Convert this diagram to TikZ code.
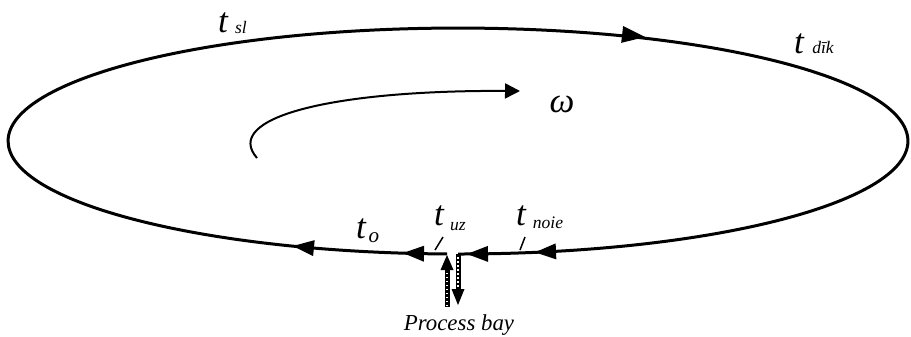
\documentclass[tikz,border=0pt]{standalone}
\usepackage{fontspec}
\setmainfont{Liberation Serif}
\usetikzlibrary{arrows.meta}
\newcommand\ahd[5]{\fill[shift={(#1,#2)},rotate=#3] (0,0) -- (-#4,#5) -- (-#4,-#5) -- cycle;}
\begin{document}
\begin{tikzpicture}[x=0.02cm,y=-0.02cm,
  tbig/.style={inner sep=0pt, anchor=base, font=\fontsize{20}{22}\selectfont\itshape},
  tsub/.style={inner sep=0pt, anchor=base, font=\fontsize{10}{12}\selectfont\itshape},
  orbit/.style={line width=0.06cm},
  pshaft/.style={line width=0.1cm},
  pdots/.style={white, line width=0.025cm, dash pattern=on 0.03cm off 0.05cm},
  leader/.style={line width=0.03cm}]
\useasboundingbox (0,0) rectangle (911,336);
% main orbit (gap at the process bay)
\draw[orbit] (458,254) arc[start angle=270, end angle=628.6, x radius=9cm, y radius=2.26cm];
% arrowheads on the orbit
\ahd{645}{37}{-6.5}{23}{8.5}
\ahd{293}{246}{174.3}{21}{8}
\ahd{403}{253}{178.2}{21}{8}
\ahd{467}{254}{180.3}{21}{8}
\ahd{535}{252.3}{182.5}{21}{8}
% rotation arrow
\draw[line width=0.04cm, -{Triangle[length=0.3cm,width=0.3cm]}] (257,158) .. controls (222,118) and (330,90) .. (520,91);
% process bay arrows
\coordinate (upfoot) at (447,307);
\coordinate (uptip) at (447,255);
\coordinate (dntop) at (458,254);
\coordinate (dntip) at (458,305);
\draw[pshaft] (upfoot) -- (447,268);
\ahd{447}{255}{90}{15}{6.5}
\draw[pdots] (447,306) -- (447,272);
\draw[pshaft] (dntop) -- (458,292);
\ahd{458}{305}{-90}{16}{6.5}
\draw[pdots] (458,257) -- (458,288);
% labels
\node[tbig] (tsl) at (223,32) {t};
\node[tsub] (tslsub) at (241,33) {sl};
\node[tbig] (tdik) at (799,53) {t};
\node[tsub] (tdiksub) at (823,53) {dīk};
\node[tbig] (to) at (361,238) {t};
\node[tsub, font=\fontsize{12}{14}\selectfont\itshape] (tosub) at (374,242) {o};
\node[tbig] (tuz) at (439,225) {t};
\node[tsub] (tuzsub) at (458,230) {uz};
\node[tbig] (tnoie) at (521,225) {t};
\node[tsub] (tnoiesub) at (548,228) {noie};
\node[inner sep=0pt, anchor=base, font=\fontsize{20}{22}\selectfont\itshape] (omega) at (562,112) {ω};
\node[inner sep=0pt, anchor=base, font=\fontsize{13}{15}\selectfont\itshape] (bay) at (459,330) {Process bay};
% leader lines
\coordinate (uzA) at (435,250); \coordinate (uzB) at (443,237);
\coordinate (noA) at (520,250); \coordinate (noB) at (525,237);
\draw[leader] (uzA) -- (uzB);
\draw[leader] (noA) -- (noB);
\end{tikzpicture}
\end{document}
